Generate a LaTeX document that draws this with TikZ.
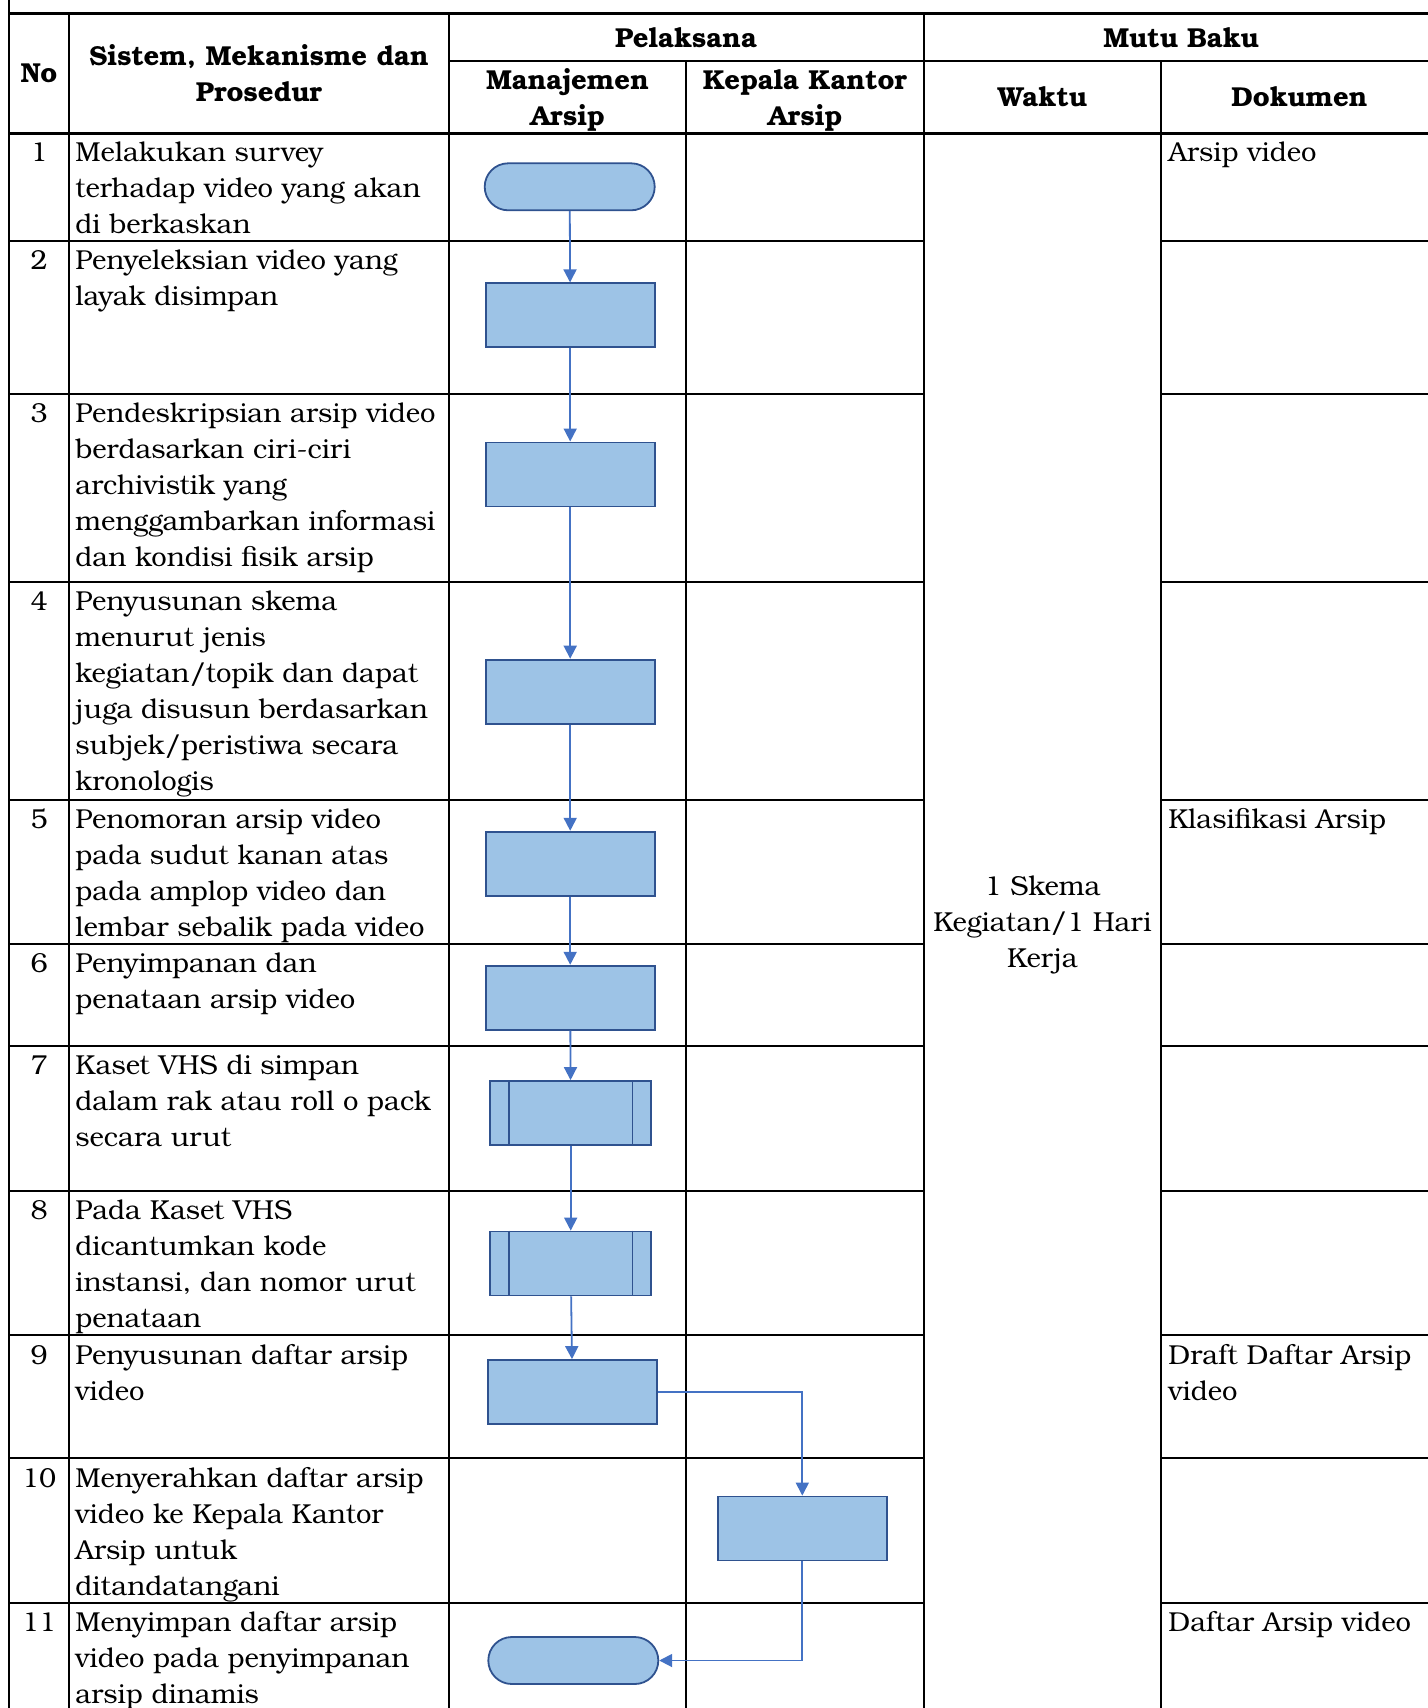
\documentclass[tikz,border=0pt]{standalone}
\usepackage{fontspec}
\setmainfont{TeX Gyre Bonum}
\usetikzlibrary{arrows.meta,shapes.misc}
\definecolor{flowfill}{HTML}{9DC3E6}
\definecolor{flowedge}{HTML}{2F528F}
\definecolor{linkblue}{HTML}{4472C4}
\newcommand{\cellsize}{\fontsize{13.7}{18}\selectfont}
\begin{document}
\begin{tikzpicture}[x=0.5pt, y=-0.5pt,
	grid/.style={line width=1pt},
	gridbold/.style={line width=1.5pt},
	hdr/.style={font=\cellsize\bfseries, align=center, inner sep=0},
	cell/.style={anchor=north west, align=left, inner sep=0, font=\cellsize},
	numcell/.style={anchor=north, inner sep=0, font=\cellsize},
	proc/.style={draw=flowedge, fill=flowfill, line width=0.9pt, minimum width=84.5pt, minimum height=32pt, inner sep=0},
	term/.style={proc, rounded rectangle, minimum width=85pt, minimum height=23.5pt},
	subproc/.style={proc, minimum width=80.5pt},
	link/.style={draw=linkblue, line width=0.9pt, -{Triangle[length=6.5pt, width=6.5pt]}}]
	\useasboundingbox (0,0) rectangle (1428,1708);
	
	% table
	\draw[grid] (9,-20) -- (9,1720);
	\draw[gridbold] (9,13) -- (1440,13);
	\draw[gridbold] (9,133) -- (1440,133);
	\draw[grid] (449,61) -- (1440,61);
	\draw[grid] (69,13) -- (69,1720);
	\draw[grid] (449,13) -- (449,1720);
	\draw[grid] (686,61) -- (686,1720);
	\draw[grid] (924,13) -- (924,1720);
	\draw[grid] (1161,61) -- (1161,1720);
	\foreach \y in {240.7, 394.3, 581.6, 799.5, 944.3, 1045.6, 1190.5, 1335.4, 1458.4, 1603.3} {
		\draw[grid] (9,\y) -- (924,\y);
		\draw[grid] (1161,\y) -- (1440,\y);
	}
	
	% header
	\node[hdr] (hno) at (39, 73) {No};
	\node[hdr] (hsis) at (259, 73) {Sistem, Mekanisme dan\\Prosedur};
	\node[hdr] (hpel) at (686, 38) {Pelaksana};
	\node[hdr] (hmutu) at (1181, 38) {Mutu Baku};
	\node[hdr] (hman) at (567.5, 100) {Manajemen\\Arsip};
	\node[hdr] (hkep) at (805, 100) {Kepala Kantor\\Arsip};
	\node[hdr] (hwak) at (1042.5, 97) {Waktu};
	\node[hdr] (hdok) at (1299.5, 97) {Dokumen};
	
	% rows
	\foreach \n/\y/\txt in {
		1/133/{Melakukan survey\\terhadap video yang akan\\di berkaskan},
		2/240.7/{Penyeleksian video yang\\layak disimpan},
		3/394.3/{Pendeskripsian arsip video\\berdasarkan ciri-ciri\\archivistik yang\\menggambarkan informasi\\dan kondisi fisik arsip},
		4/581.6/{Penyusunan skema\\menurut jenis\\kegiatan/topik dan dapat\\juga disusun berdasarkan\\subjek/peristiwa secara\\kronologis},
		5/799.5/{Penomoran arsip video\\pada sudut kanan atas\\pada amplop video dan\\lembar sebalik pada video},
		6/944.3/{Penyimpanan dan\\penataan arsip video},
		7/1045.6/{Kaset VHS di simpan\\dalam rak atau roll o pack\\secara urut},
		8/1190.5/{Pada Kaset VHS\\dicantumkan kode\\instansi, dan nomor urut\\penataan},
		9/1335.4/{Penyusunan daftar arsip\\video},
		10/1458.4/{Menyerahkan daftar arsip\\video ke Kepala Kantor\\Arsip untuk\\ditandatangani},
		11/1603.3/{Menyimpan daftar arsip\\video pada penyimpanan\\arsip dinamis}} {
		\node[numcell] (n\n) at (39, \y+3) {\strut\n};
		\node[cell] (t\n) at (75, \y+3) {\strut\txt};
	}
	
	% mutu baku
	\node[hdr, font=\cellsize] (waktu) at (1042.5, 924.5) {1 Skema\\Kegiatan/1 Hari\\Kerja};
	\node[cell] (d1) at (1168, 136) {\strut Arsip video};
	\node[cell] (d5) at (1168, 802.5) {\strut Klasifikasi Arsip};
	\node[cell] (d9) at (1168, 1338.4) {\strut Draft Daftar Arsip\\video};
	\node[cell] (d11) at (1168, 1606.3) {\strut Daftar Arsip video};
	
	% flow
	\node[term] (s1) at (569.7, 186.8) {};
	\node[proc] (s2) at (570.2, 315.3) {};
	\node[proc] (s3) at (570.2, 474.4) {};
	\node[proc] (s4) at (570.2, 691.6) {};
	\node[proc] (s5) at (570.2, 863.7) {};
	\node[proc] (s6) at (570.2, 997.7) {};
	\node[subproc] (s7) at (570.7, 1113) {};
	\node[subproc] (s8) at (570.7, 1263.5) {};
	\node[proc] (s9) at (572.4, 1392) {};
	\node[proc] (s10) at (802.3, 1528.5) {};
	\node[term] (s11) at (573.3, 1660.5) {};
	\foreach \s in {s7, s8} {
		\draw[draw=flowedge, line width=0.9pt] ([xshift=9.8pt]\s.north west) -- ([xshift=9.8pt]\s.south west);
		\draw[draw=flowedge, line width=0.9pt] ([xshift=-9.8pt]\s.north east) -- ([xshift=-9.8pt]\s.south east);
	}
	
	\draw[link] (s1) -- (s2);
	\draw[link] (s2) -- (s3);
	\draw[link] (s3) -- (s4);
	\draw[link] (s4) -- (s5);
	\draw[link] (s5) -- (s6);
	\draw[link] (s6) -- (s7);
	\draw[link] (s7) -- (s8);
	\draw[link] (s8) -- (s9);
	\draw[link] (s9.east) -| (s10.north);
	\draw[link] (s10.south) |- (s11.east);
\end{tikzpicture}
\end{document}
